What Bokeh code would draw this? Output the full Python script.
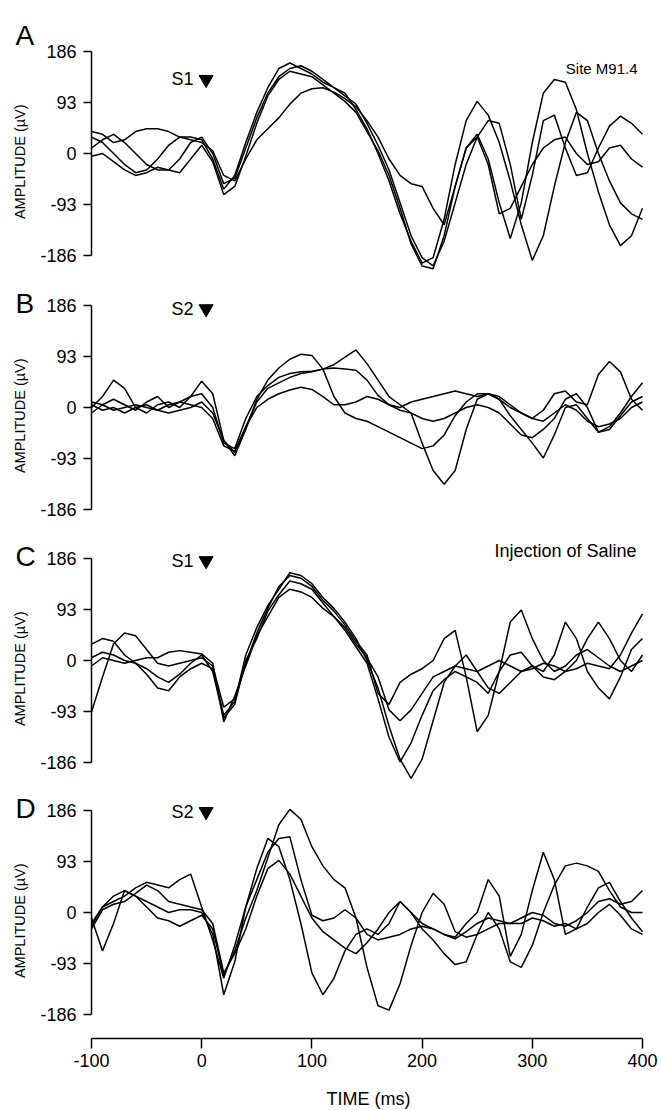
import math

from bokeh.embed import file_html
from bokeh.layouts import column
from bokeh.models import FixedTicker, Label, Range1d
from bokeh.plotting import figure
from bokeh.resources import INLINE

# ---------------------------------------------------------------- data
time_ms = list(range(-100, 401, 10))
y_ticks = [-186, -93, 0, 93, 186]
x_ticks = [-100, 0, 100, 200, 300, 400]

panel_letters = ["A", "B", "C", "D"]
stim_labels = ["S1", "S2", "S1", "S2"]
stim_time_ms = 4

# panel A: S1, site M91.4
a1 = [30, 20, 0, -20, -35, -30, -10, 15, 30, 30, 25,
      -10, -65, -40, 20, 75, 120, 155, 165, 155, 145,
      130, 120, 110, 80, 45, 0, -50, -110, -160, -200,
      -190, -120, -20, 60, 95, 70, 20, -50, -130, -195,
      -150, -60, 20, 75, 60, 0, -50, -90, -110, -120]
a2 = [10, 25, 35, 20, 0, -20, -30, -30, -10, 20, 30,
      0, -55, -45, 10, 65, 110, 140, 155, 160, 150,
      135, 120, 105, 90, 55, 15, -30, -90, -150, -190,
      -205, -160, -90, -20, 30, 60, 55, -20, -120, -40,
      60, 70, 10, -40, -35, 10, 50, 68, 55, 35]
a3 = [40, 35, 20, 25, 40, 45, 45, 40, 30, 25, 20,
      5, -40, -50, -10, 25, 45, 65, 90, 110, 118,
      120, 112, 100, 85, 60, 30, -10, -40, -55, -60,
      -100, -130, -60, 10, 35, -10, -90, -155, -90, 20,
      110, 135, 130, 80, 0, -70, -130, -168, -150, -100]
a4 = [-5, 0, -15, -30, -40, -35, -25, -30, -35, -10, 15,
      -15, -75, -60, -5, 55, 105, 135, 150, 145, 140,
      125, 110, 95, 75, 40, 5, -40, -100, -165, -205,
      -210, -150, -60, 10, 30, -20, -110, -100, -60, -20,
      10, 25, 30, 0, -20, -15, 10, 15, -10, -25]

# panel B: S2
b1 = [10, 5, -5, 0, 5, 0, -5, 5, 10, 5, 0,
      -20, -70, -80, -35, 10, 35, 45, 55, 62, 65,
      70, 78, 92, 105, 80, 50, 20, 5, -10, -65,
      -115, -140, -115, -40, 15, 25, 20, 5, -10, -20,
      -25, -10, 5, -5, -25, -35, -30, -20, 0, 10]
b2 = [0, 20, 50, 35, 0, -10, 5, 10, 0, 20, 48,
      25, -60, -88, -40, 15, 50, 72, 88, 97, 95,
      70, 20, -10, -20, -25, -35, -45, -55, -65, -75,
      -70, -50, -15, 10, 25, 25, 15, -15, -40, -65,
      -92, -50, 0, 5, -20, -45, -35, -10, 20, 45]
b3 = [-10, 5, 15, 5, -5, 10, 20, 0, 10, 20, 25,
      0, -65, -75, -20, 20, 40, 55, 62, 65, 66,
      70, 72, 70, 68, 50, 22, 5, 0, 10, 15,
      20, 25, 30, 25, 20, 25, 15, 0, -10, -20,
      -5, 25, 30, 10, 5, 60, 84, 65, 15, -5]
b4 = [5, -5, 0, -10, 0, 5, -5, -10, -5, 0, 10,
      -10, -60, -82, -35, 0, 15, 25, 32, 37, 33,
      20, 5, 5, 10, 20, 15, 5, -5, -10, -20,
      -25, -20, -10, 0, 5, 0, -10, -30, -50, -55,
      -40, -20, 15, 25, 0, -45, -40, -15, 10, 20]

# panel C: S1 after injection of saline
c1 = [-94, -30, 30, 50, 45, 20, -5, -10, -5, 0, 5,
      -10, -85, -70, -5, 50, 95, 135, 155, 150, 135,
      110, 90, 65, 35, 10, -60, -80, -40, -25, -15,
      0, 40, 55, -30, -130, -100, -20, 70, 92, 40,
      0, -20, -10, 10, 20, 5, -10, -20, -10, 0]
c2 = [30, 40, 35, 10, -5, -25, -50, -55, -30, -15, -5,
      -15, -100, -75, 10, 60, 100, 130, 160, 155, 140,
      115, 95, 70, 40, 0, -50, -120, -180, -215, -180,
      -110, -40, -10, 10, -20, -50, -60, -40, -20, -10,
      -20, 10, 70, 40, -20, -50, -70, -30, 20, 40]
c3 = [5, 15, 10, 0, -5, -15, -30, -40, -25, -5, 10,
      -20, -105, -80, 0, 40, 90, 120, 145, 140, 130,
      105, 80, 55, 25, -5, -70, -140, -185, -150, -100,
      -55, -35, -20, -30, -40, -60, -20, 10, 15, -10,
      -30, -35, -20, 0, 40, 70, 40, 0, -20, 10]
c4 = [-10, 5, 0, -5, 0, 5, 5, 15, 18, 15, 12,
      -5, -112, -65, -10, 45, 80, 115, 130, 125, 115,
      95, 80, 60, 30, 5, -30, -90, -110, -90, -60,
      -30, -20, -10, -15, -20, -10, 0, -10, -20, -15,
      -5, -10, -20, -15, -5, -10, -15, 10, 50, 85]

# panel D: S2 after injection of saline
d1 = [-10, -70, -20, 40, 30, 20, 10, 0, 5, 5, 0,
      -40, -150, -90, 10, 80, 135, 120, 60, -20, -110,
      -150, -120, -70, -40, -30, -40, -20, 20, 0, -30,
      -50, -75, -95, -90, -40, 0, -30, -90, -100, -60,
      0, 50, 85, 90, 85, 75, 40, 10, 0, 0]
d2 = [-25, 10, 30, 40, 30, 10, -10, -15, -25, -15, -5,
      -30, -115, -70, -10, 40, 100, 160, 188, 170, 120,
      85, 60, 45, -10, -100, -170, -178, -130, -60, 0,
      35, 15, -35, -45, -40, -30, -20, -20, -10, 0,
      -5, -20, -25, -15, 0, 20, 25, 15, 20, 40]
d3 = [-20, 10, 20, 30, 45, 55, 50, 45, 60, 70, 10,
      -50, -120, -60, 10, 60, 110, 135, 138, 60, -5,
      -15, -10, 5, -10, -40, -50, -45, -40, -30, -25,
      -30, -40, -45, -20, 0, 60, 30, -80, -40, 40,
      110, 60, -40, -30, 10, 45, 55, 20, -10, -35]
d4 = [-30, 5, 15, 20, 35, 50, 40, 20, 15, 10, 5,
      -20, -110, -75, -30, 30, 80, 95, 70, 30, -10,
      -35, -50, -65, -75, -55, -30, 0, 20, 0, -20,
      -30, -40, -48, -35, -20, -10, -15, -20, -20, -10,
      -15, -25, -20, -30, -20, 0, 15, -5, -30, -40]

panels = [[a1, a2, a3, a4], [b1, b2, b3, b4], [c1, c2, c3, c4], [d1, d2, d3, d4]]

# ---------------------------------------------------------------- layout
FONT = "Liberation Sans"
PX_PER_UV = 51 / 93            # vertical scale shared by all panels
WIDTH = 662
AXIS_PX = 91                   # page x of the time axis start (-100 ms)
END_PX = 642                   # page x of 400 ms
PX_PER_MS = (END_PX - AXIS_PX) / 500
TIME_AXIS_PX = 1038            # page y of the time axis line
# (frame top, frame bottom, zero line) in page pixels
frames = [(0, 280, 153), (280, 533, 407), (533, 786, 660), (786, 1110, 912)]
letter_y = [215, 190, 190, 190]
stim_y = [135, 180, 182, 184]


def px_to_ms(px):
    return -100 + (px - AXIS_PX) / PX_PER_MS


def px_to_uv(px, zero):
    return (zero - px) / PX_PER_UV


# each frame spans the full page width so the margin texts sit inside it;
# the amplitude axis is pinned at -100 ms, the time axis below panel D
x_range = Range1d(px_to_ms(0), px_to_ms(WIDTH))
minus = {-186: "-186", -93: "-93", -100: "-100"}


def style_axis(ax, ticks, tick_len, standoff):
    ax.ticker = FixedTicker(ticks=ticks)
    ax.major_label_overrides = {k: v for k, v in minus.items() if k in ticks}
    ax.major_tick_out = tick_len
    ax.major_tick_in = 0
    ax.minor_tick_out = 0
    ax.minor_tick_in = 0
    ax.axis_line_width = 1.5
    ax.axis_line_color = "black"
    ax.major_tick_line_width = 1.5
    ax.major_tick_line_color = "black"
    ax.major_label_text_font = FONT
    ax.major_label_text_font_size = "18px"
    ax.major_label_text_color = "black"
    ax.major_label_standoff = standoff


def make_panel(i):
    top, bottom, zero = frames[i]
    last = i == len(frames) - 1
    y_range = Range1d(px_to_uv(bottom, zero), px_to_uv(top, zero))
    p = figure(width=WIDTH, height=bottom - top, x_range=x_range, y_range=y_range,
               output_backend="svg", toolbar_location=None,
               x_axis_location="below" if last else None,
               min_border_left=0, min_border_right=0, min_border_top=0,
               min_border_bottom=0)
    p.outline_line_color = None
    p.grid.visible = False
    p.background_fill_color = "white"
    p.border_fill_color = "white"

    ya = p.yaxis[0]
    ya.fixed_location = -100
    ya.bounds = (-186, 186)
    style_axis(ya, y_ticks, 8, 7)

    if last:
        xa = p.xaxis[0]
        xa.fixed_location = px_to_uv(TIME_AXIS_PX, zero)
        xa.bounds = (-100, 400)
        style_axis(xa, x_ticks, 10, 5)
        p.add_layout(Label(x=px_to_ms(368), y=px_to_uv(1098, zero), text="TIME (ms)",
                           text_align="center", text_baseline="middle",
                           text_font=FONT, text_font_size="18px", text_color="black"))

    for trace in panels[i]:
        p.line(time_ms, trace, line_color="black", line_width=1.5)

    # amplitude title
    p.add_layout(Label(x=px_to_ms(19), y=-15, text="AMPLITUDE (µV)", angle=math.pi / 2,
                       text_align="center", text_baseline="middle",
                       text_font=FONT, text_font_size="14.5px", text_color="black"))
    # panel letter
    p.add_layout(Label(x=px_to_ms(15), y=letter_y[i], text=panel_letters[i],
                       text_align="left", text_baseline="alphabetic",
                       text_font=FONT, text_font_size="28px", text_color="black"))
    # stimulus marker
    p.add_layout(Label(x=px_to_ms(193), y=stim_y[i], text=stim_labels[i],
                       text_align="right", text_baseline="middle",
                       text_font=FONT, text_font_size="18px", text_color="black"))
    p.scatter([stim_time_ms], [stim_y[i]], marker="inverted_triangle", size=14,
              color="black")
    return p


figs = [make_panel(i) for i in range(4)]

figs[0].add_layout(Label(x=px_to_ms(637), y=155, text="Site M91.4",
                         text_align="right", text_baseline="middle",
                         text_font=FONT, text_font_size="15px", text_color="black"))
figs[2].add_layout(Label(x=px_to_ms(636), y=200, text="Injection of Saline",
                         text_align="right", text_baseline="middle",
                         text_font=FONT, text_font_size="18px", text_color="black"))

page = column(*figs, spacing=0)
open("out.html", "w").write(file_html(page, INLINE))
